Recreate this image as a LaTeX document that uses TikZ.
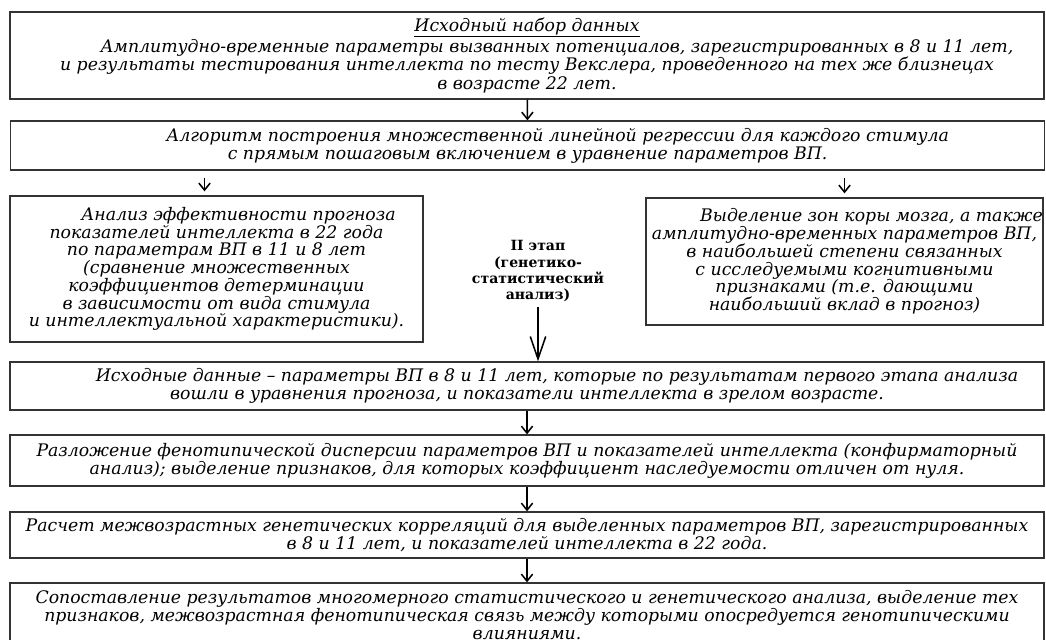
\documentclass[tikz,border=0pt]{standalone}
\usepackage{fontspec}
\setmainfont{DejaVu Serif}
\usetikzlibrary{arrows.meta}
\tikzset{
  stepbox/.style={draw=black!80, line width=0.9pt, align=center, inner sep=0pt,
    font=\itshape\fontsize{12.3}{12.6}\selectfont},
  >={Straight Barb[length=5pt,width=8pt]}
}
\begin{document}
\begin{tikzpicture}[line width=1.1pt]
\useasboundingbox (0,0) rectangle (26.15,-16);
\node[stepbox, minimum width=25.85cm, minimum height=2.175cm, font=\itshape\fontsize{12.3}{13.4}\selectfont] (source) at (13.175,-1.3875) {\underline{Исходный набор данных}\\\hspace*{1.5cm}Амплитудно-временные параметры  вызванных потенциалов, зарегистрированных в 8 и 11 лет,\\и  результаты тестирования интеллекта по тесту Векслера, проведенного на тех же близнецах\\в  возрасте 22 лет.};
\node[stepbox, minimum width=25.85cm, minimum height=1.225cm] (algorithm) at (13.19,-3.6375) {\hspace*{1.5cm}Алгоритм построения множественной линейной регрессии для каждого стимула\\с прямым пошаговым включением в уравнение  параметров ВП.};
\node[stepbox, minimum width=10.325cm, minimum height=3.65cm] (forecast) at (5.4125,-6.725) {\hspace*{1.1cm}Анализ эффективности  прогноза\\показателей интеллекта в 22 года\\по параметрам ВП в 11 и 8 лет\\(сравнение множественных\\коэффициентов детерминации\\в зависимости от вида стимула\\и  интеллектуальной характеристики).};
\node[stepbox, minimum width=9.925cm, minimum height=3.175cm] (zones) at (21.1125,-6.5375) {\hspace*{1.35cm}Выделение зон коры мозга, а также\\амплитудно-временных параметров ВП,\\в наибольшей степени связанных\\с исследуемыми когнитивными\\признаками (т.е. дающими\\наибольший вклад в прогноз)};
\node[font=\bfseries\fontsize{10}{11.4}\selectfont, align=center, inner sep=1pt] (stage) at (13.45,-6.775) {II этап\\(генетико-\\статистический\\анализ)};
\node[stepbox, minimum width=25.85cm, minimum height=1.2cm] (inputs) at (13.175,-9.65) {\hspace*{1.5cm}Исходные данные – параметры ВП в 8 и 11 лет, которые по результатам первого этапа анализа\\вошли в уравнения прогноза,  и показатели интеллекта в зрелом возрасте.};
\node[stepbox, minimum width=25.85cm, minimum height=1.275cm] (decomposition) at (13.175,-11.5125) {Разложение фенотипической  дисперсии параметров ВП  и  показателей интеллекта (конфирматорный\\анализ); выделение  признаков, для которых коэффициент наследуемости отличен от нуля.};
\node[stepbox, minimum width=25.85cm, minimum height=1.15cm] (correlation) at (13.175,-13.375) {Расчет межвозрастных генетических корреляций для выделенных параметров  ВП, зарегистрированных\\в 8 и 11 лет,   и  показателей интеллекта в 22 года.};
\node[stepbox, minimum width=25.85cm, minimum height=1.6cm] (comparison) at (13.175,-15.375) {Сопоставление результатов многомерного статистического и генетического анализа, выделение тех\\признаков, межвозрастная фенотипическая связь  между которыми опосредуется генотипическими\\влияниями.};
\draw[->] (source) -- (algorithm);
\draw[->, shorten <=0.175cm, shorten >=0.1cm] ([xshift=-0.3cm]forecast.north |- algorithm.south) -- ([xshift=-0.3cm]forecast.north);
\draw[->, shorten <=0.175cm, shorten >=0.1cm] (zones.north |- algorithm.south) -- (zones.north);
\draw[->, >={Straight Barb[length=16pt,width=11pt]}, shorten <=0.1cm] (stage) -- (stage |- inputs.north);
\draw[->] (inputs) -- (decomposition);
\draw[->] (decomposition) -- (correlation);
\draw[->] (correlation) -- (comparison);
\end{tikzpicture}
\end{document}
